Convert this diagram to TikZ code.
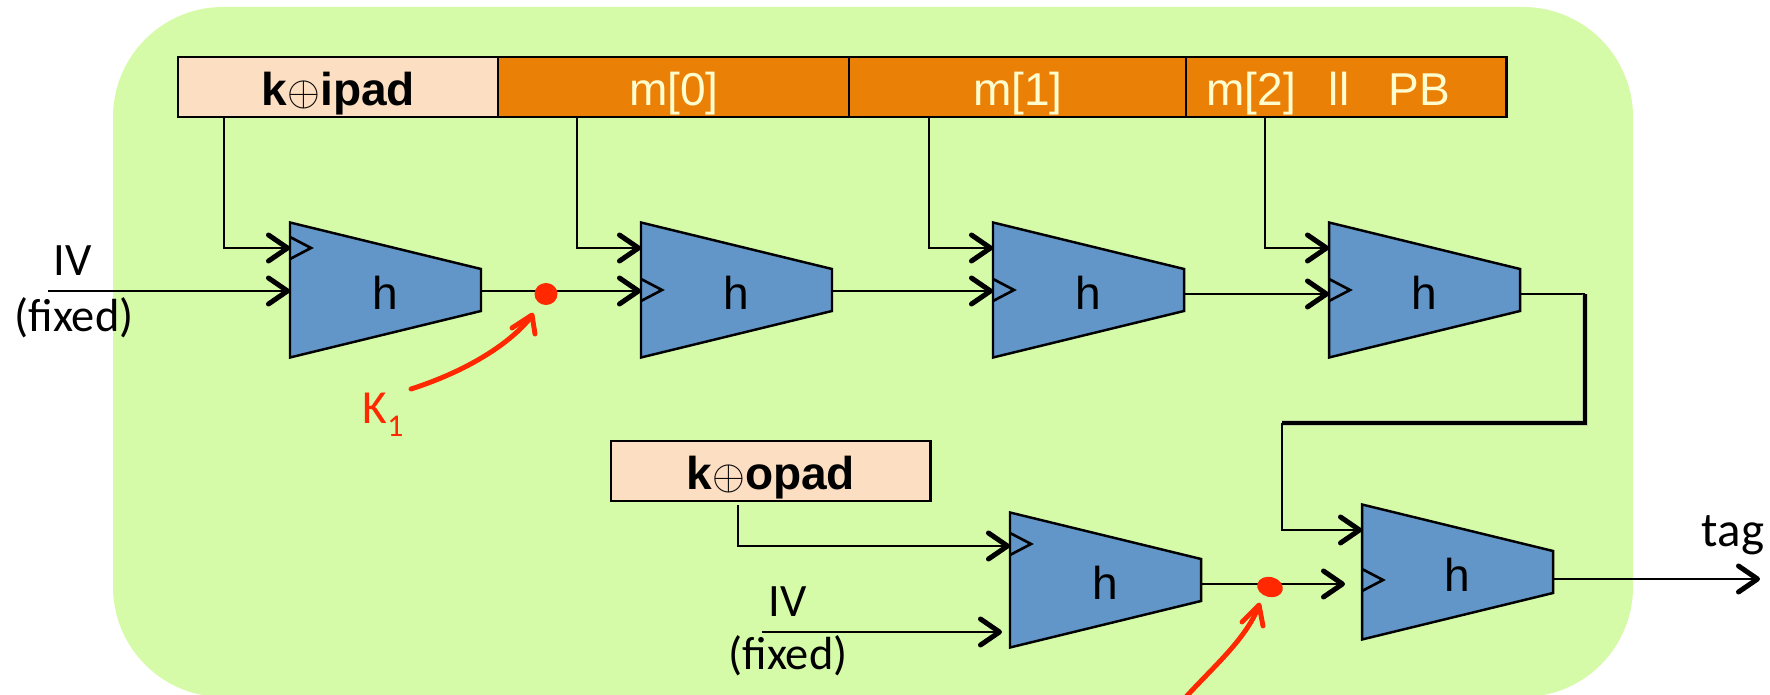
\documentclass[tikz,border=0pt]{standalone}
\usepackage{fontspec}
\setmainfont{Liberation Sans}
\newfontfamily\calib{Carlito}
\usetikzlibrary{arrows.meta,calc}
\definecolor{bg}{RGB}{214,251,168}
\definecolor{org}{RGB}{234,128,6}
\definecolor{peach}{RGB}{252,222,194}
\definecolor{hblue}{RGB}{98,149,200}
\definecolor{pen}{RGB}{255,40,0}
\definecolor{ltext}{RGB}{255,252,205}
\begin{document}
\begin{tikzpicture}[x=0.01cm,y=-0.01cm,
  >={Straight Barb[length=1.9mm,width=2.6mm,line width=0.5mm,round]},
  conn/.style={line width=0.55pt},
  seg/.style={draw=black,line width=0.7pt,minimum height=6mm,inner sep=0pt,text height=3.7mm,text depth=0mm,anchor=north west,font=\fontsize{13.1pt}{15pt}\selectfont},
  lab/.style={font=\calib\fontsize{13.2pt}{15pt}\selectfont,anchor=base,inner sep=0pt},
  redpen/.style={pen,line width=1.4pt,line cap=round,line join=round},
  pics/hblock/.style n args={4}{code={
    \draw[fill=hblue,line width=0.7pt,line join=miter] (0,-67.5) -- (191,-21) -- (191,21) -- (0,67.5) -- cycle;
    \draw[line width=0.75pt] (0,#1-11) -- (21,#1) -- (0,#1+11);
    \node[inner sep=0pt,text height=3.8mm,text depth=0mm,font=\fontsize{13.1pt}{15pt}\selectfont] (-t) at (95.5,0) {h};
    \coordinate (-out) at (191,#2);
    \coordinate (-a) at (0,#3);
    \coordinate (-b) at (0,#4);
  }}]
\useasboundingbox (0,0) rectangle (1770,695);
\fill[bg,rounded corners=11mm] (113,7) rectangle (1633,697);

% message blocks
\node[seg,fill=peach,minimum width=32mm] (ipad) at (177,56) {\textbf{k}$\oplus$\textbf{ipad}};
\node[seg,fill=org,text=ltext,minimum width=35.1mm] (m0) at (497,56) {m[0]};
\node[seg,fill=org,text=ltext,minimum width=33.7mm] (m1) at (848,56) {m[1]};
\node[seg,fill=org,text=ltext,minimum width=32mm] (m2) at (1185,56) {\makebox[32mm][l]{\hspace{2mm}m[2]\hspace{3.3mm}ll\hspace{3.9mm}PB}};
\node[seg,fill=peach,minimum width=31.9mm] (opad) at (610,440) {\textbf{k}$\oplus$\textbf{opad}};

% compression blocks
\pic (h1) at (290,290) {hblock={-42}{1}{-42}{1}};
\pic (h2) at (641,290) {hblock={0}{1}{-42}{1}};
\pic (h3) at (993,290) {hblock={0}{4}{-42}{1}};
\pic (h4) at (1329,290) {hblock={0}{4}{-42}{4}};
\pic (b1) at (1010,580) {hblock={-36}{4}{-34}{52}};
\pic (b2) at (1362,572) {hblock={8}{7}{-42}{12}};

% inputs from blocks
\draw[conn,->] ($(ipad.south west)+(47,0)$) |- (h1-a);
\draw[conn,->] ($(m0.south west)+(80,0)$) |- (h2-a);
\draw[conn,->] ($(m1.south west)+(81,0)$) |- (h3-a);
\draw[conn,->] ($(m2.south west)+(80,0)$) |- (h4-a);
\draw[conn,->] ($(opad.south west)+(128,3)$) |- (b1-a);

% IV inputs
\coordinate (ivs) at (48,291);
\draw[conn,->] (ivs) -- (h1-b);
\node[lab] (iv1) at (73,276) {IV};
\node[lab] (fx1) at (74,332) {(fixed)};
\coordinate (ivs2) at (762,632);
\draw[conn,->] (ivs2) -- ($(b1-b)+(-8,0)$);
\node[lab] (iv2) at (788,617) {IV};
\node[lab] (fx2) at (788,670) {(fixed)};

% chain
\draw[conn,->] (h1-out) -- (h2-b);
\draw[conn,->] (h2-out) -- (h3-b);
\draw[conn,->] (h3-out) -- (h4-b);

% feedback
\coordinate (fbc) at (1585,423);
\coordinate (fbd) at (1282,423);
\draw[line width=0.8pt] (h4-out) -- (h4-out -| fbc);
\draw[black!35,opacity=0.45,line width=1.6pt,shift={(3,5)}] (h4-out -| fbc) -- (fbc) -- (fbd);
\draw[line width=1.25pt] (h4-out -| fbc) -- (fbc) -- (fbd);
\draw[conn,->] (fbd) |- (b2-a);

% outer chain
\draw[conn,->] (b1-out) -- ($(b2-b)+(-17,0)$);
\coordinate (tagend) at (1760,579);
\draw[conn,->] (b2-out) -- (tagend);
\node[lab,font=\calib\fontsize{13.9pt}{16pt}\selectfont] (tag) at (1733,547) {tag};

% red annotations
\coordinate (d1) at (546,294);
\coordinate (d2) at (1270,587);
\fill[pen] (d1) ellipse [x radius=1.15mm, y radius=1.1mm];
\fill[pen,rotate around={-15:(d2)}] (d2) ellipse [x radius=1.3mm, y radius=1.0mm];
\draw[redpen] (411,389) .. controls (455,375) and (505,350) .. (532,316);
\draw[redpen] (512,328) -- (532,315) -- (535,334);
\draw[redpen] (1184,699) .. controls (1215,665) and (1245,640) .. (1259,606);
\draw[redpen] (1242,622) -- (1259,605) -- (1263,626);
\node[text=pen,font=\calib\fontsize{13.5pt}{15pt}\selectfont,anchor=base west,inner sep=0pt] (k1) at (362,424) {K\raisebox{-1.2mm}{\fontsize{9pt}{10pt}\selectfont 1}};
\end{tikzpicture}
\end{document}
